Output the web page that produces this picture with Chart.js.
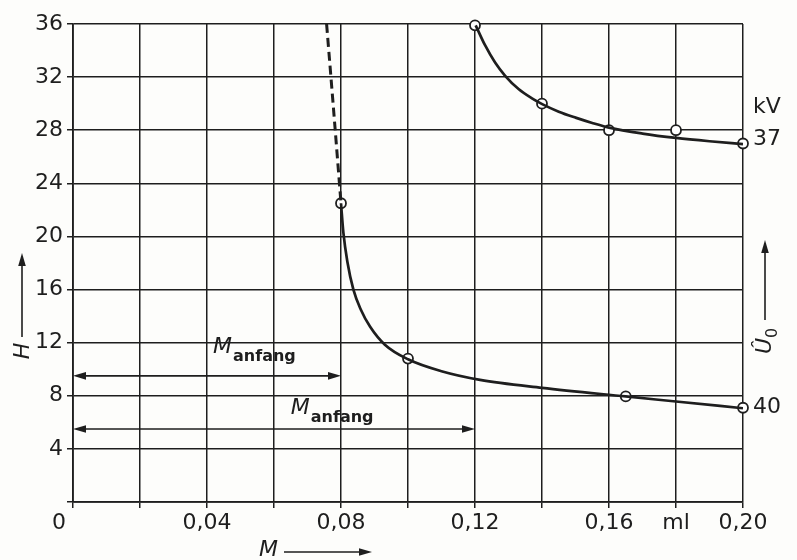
<!DOCTYPE html>
<html>
<head>
<meta charset="utf-8">
<script src="https://cdn.jsdelivr.net/npm/chart.js@4/dist/chart.umd.min.js"></script>
<style>
  html, body { margin: 0; padding: 0; background: #fdfdfb; }
  #wrap { width: 797px; height: 560px; }
</style>
</head>
<body>
<div id="wrap"><canvas id="hChart" width="797" height="560"></canvas></div>
<script>
// Achsen
const xTickLabels = ['0    ', '', '0,04', '', '0,08', '', '0,12', '', '0,16', 'ml', '0,20'];
const yTicks = [4, 8, 12, 16, 20, 24, 28, 32, 36];

// 37 kV – Kurve und Messpunkte
const upperCurveM = [0.1202, 0.1230, 0.1260, 0.1290, 0.1330, 0.1370, 0.1402, 0.1450, 0.1500, 0.1550, 0.1600, 0.1700, 0.1800, 0.1900, 0.2000];
const upperCurveH = [35.9, 34.4, 33.1, 32.1, 31.1, 30.4, 29.95, 29.4, 28.95, 28.55, 28.2, 27.75, 27.42, 27.17, 26.96];
const upperPointsM = [0.12, 0.14, 0.16, 0.18, 0.20];
const upperPointsH = [35.9, 30.0, 28.0, 28.0, 27.0];

// 40 kV – Kurve, gestrichelter Anfang und Messpunkte
const lowerDashM = [0.0757, 0.0778, 0.0800];
const lowerDashH = [36, 29.5, 22.5];
const lowerCurveM = [0.0800, 0.0807, 0.0819, 0.0837, 0.0859, 0.0887, 0.0931, 0.1000, 0.1100, 0.1215, 0.1400, 0.1650, 0.1800, 0.2000];
const lowerCurveH = [22.5, 20.3, 18.1, 16.0, 14.5, 13.2, 11.85, 10.75, 9.85, 9.2, 8.6, 7.95, 7.57, 7.06];
const lowerPointsM = [0.08, 0.10, 0.165, 0.20];
const lowerPointsH = [22.5, 10.8, 7.95, 7.1];

// M_anfang Pfeile
const anfangTo = [0.08, 0.12];
const anfangH = [9.5, 5.5];

const ink = '#1e1e1e';
const fontFam = '"DejaVu Sans", sans-serif';

const toXY = (ms, hs) => ms.map((m, i) => ({ x: m, y: hs[i] }));

function arrowHead(c, x, y, dx, dy) {
    // gefüllte Pfeilspitze, Richtung (dx, dy)
    const len = 13, half = 3.8;
    const px = -dy, py = dx;
    c.beginPath();
    c.moveTo(x, y);
    c.lineTo(x - dx * len + px * half, y - dy * len + py * half);
    c.lineTo(x - dx * len - px * half, y - dy * len - py * half);
    c.closePath();
    c.fill();
}

function mAnfang(c, x, y) {
    c.textAlign = 'left';
    c.textBaseline = 'alphabetic';
    c.font = 'italic 22px ' + fontFam;
    c.fillText('M', x, y);
    const w = c.measureText('M').width;
    c.font = 'bold 16px ' + fontFam;
    c.fillText('anfang', x + w + 1, y + 8);
}

const annotations = {
    id: 'annotations',
    afterDraw(chart) {
        const c = chart.ctx;
        const xs = chart.scales.x, ys = chart.scales.y;
        c.save();
        c.strokeStyle = ink;
        c.fillStyle = ink;
        c.lineWidth = 1.6;

        // Doppelpfeile M_anfang
        anfangTo.forEach((m, i) => {
            const y = ys.getPixelForValue(anfangH[i]);
            const x0 = xs.getPixelForValue(0), x1 = xs.getPixelForValue(m);
            c.beginPath();
            c.moveTo(x0 + 6, y);
            c.lineTo(x1 - 6, y);
            c.stroke();
            arrowHead(c, x0, y, -1, 0);
            arrowHead(c, x1, y, 1, 0);
        });
        mAnfang(c, xs.getPixelForValue(0.0418), ys.getPixelForValue(11.2));
        mAnfang(c, xs.getPixelForValue(0.0650), ys.getPixelForValue(6.6));

        // rechte Beschriftung
        c.font = '22px ' + fontFam;
        c.textAlign = 'left';
        c.textBaseline = 'middle';
        const xr = xs.right + 10;
        c.fillText('kV', xr, ys.getPixelForValue(29.7));
        c.fillText('37', xr, ys.getPixelForValue(27.3));
        c.fillText('40', xr, ys.getPixelForValue(7.1));

        // Û0 mit Pfeil
        c.beginPath();
        c.moveTo(765, 320);
        c.lineTo(765, 250);
        c.stroke();
        arrowHead(c, 765, 240, 0, -1);
        c.save();
        c.translate(771, 354);
        c.rotate(-Math.PI / 2);
        c.textAlign = 'left';
        c.textBaseline = 'alphabetic';
        c.font = 'italic 22px ' + fontFam;
        c.fillText('\u00DB', 0, 0);
        const uw = c.measureText('\u00DB').width;
        c.font = '16px ' + fontFam;
        c.fillText('0', uw, 6);
        c.restore();

        // H mit Pfeil
        c.beginPath();
        c.moveTo(22, 337);
        c.lineTo(22, 263);
        c.stroke();
        arrowHead(c, 22, 253, 0, -1);
        c.save();
        c.translate(29, 351);
        c.rotate(-Math.PI / 2);
        c.textAlign = 'center';
        c.textBaseline = 'alphabetic';
        c.font = 'italic 22px ' + fontFam;
        c.fillText('H', 0, 0);
        c.restore();

        // M mit Pfeil
        c.textAlign = 'left';
        c.textBaseline = 'middle';
        c.font = 'italic 22px ' + fontFam;
        c.fillText('M', 259, 550);
        c.beginPath();
        c.moveTo(284, 552);
        c.lineTo(362, 552);
        c.stroke();
        arrowHead(c, 372, 552, 1, 0);

        c.restore();
    }
};

const curveStyle = {
    borderColor: ink,
    borderWidth: 2.7,
    pointRadius: 0,
    showLine: true,
    fill: false,
    cubicInterpolationMode: 'monotone'
};
const pointStyle = {
    showLine: false,
    pointRadius: 5,
    pointBorderWidth: 1.8,
    pointBorderColor: ink,
    pointBackgroundColor: '#ffffff',
    clip: false
};

new Chart(document.getElementById('hChart'), {
    type: 'scatter',
    data: {
        datasets: [
            { ...curveStyle, data: toXY(upperCurveM, upperCurveH) },
            { ...curveStyle, data: toXY(lowerCurveM, lowerCurveH) },
            { ...curveStyle, borderDash: [9, 5], borderWidth: 3, data: toXY(lowerDashM, lowerDashH) },
            { ...pointStyle, data: toXY(upperPointsM, upperPointsH) },
            { ...pointStyle, data: toXY(lowerPointsM, lowerPointsH) }
        ]
    },
    options: {
        responsive: false,
        animation: false,
        layout: { padding: { top: 24, right: 54, left: 0, bottom: 0 } },
        plugins: { legend: { display: false }, tooltip: { enabled: false } },
        scales: {
            x: {
                type: 'linear',
                min: 0,
                max: 0.2,
                afterFit: s => { s.height = 58; },
                afterBuildTicks: s => { s.ticks = xTickLabels.map((_, i) => ({ value: i * 0.02 })); },
                grid: { color: ink, lineWidth: 1.5, tickLength: 6, tickColor: ink },
                border: { color: ink, width: 1.8 },
                ticks: {
                    padding: 2,
                    color: ink,
                    font: { family: fontFam, size: 22 },
                    maxRotation: 0,
                    autoSkip: false,
                    callback: v => xTickLabels[Math.round(v / 0.02)]
                }
            },
            y: {
                type: 'linear',
                min: 0,
                max: 36,
                afterFit: s => { s.width = 73; },
                afterBuildTicks: s => { s.ticks = [0].concat(yTicks).map(v => ({ value: v })); },
                grid: { color: ink, lineWidth: 1.5, tickLength: 6, tickColor: ink },
                border: { color: ink, width: 1.8 },
                ticks: {
                    padding: 4,
                    color: ink,
                    font: { family: fontFam, size: 22 },
                    callback: v => (v === 0 ? '' : String(v))
                }
            }
        }
    },
    plugins: [annotations]
});
</script>
</body>
</html>
